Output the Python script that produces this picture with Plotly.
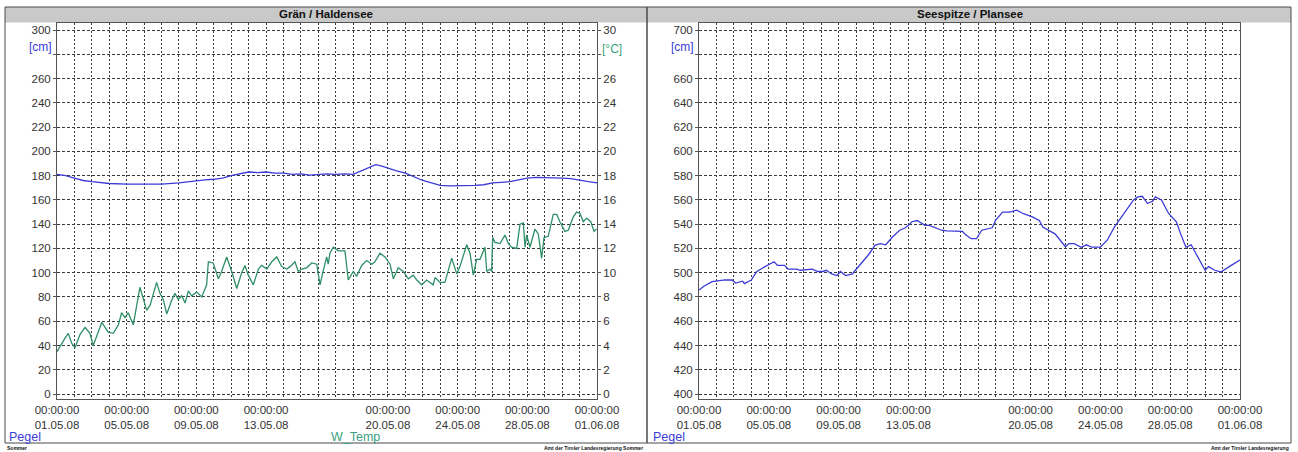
import pandas as pd
import plotly.graph_objects as go

W, H = 1298, 452
START = pd.Timestamp("2008-05-01")

# ---- Grän / Haldensee: water level [cm] (day offset from 01.05.08) ----
haldensee_pegel_days = [0, 0.5, 1, 1.5, 2, 2.5, 3, 4, 5, 6, 7, 7.5, 8, 8.5, 9, 9.5, 10,
                        10.5, 11, 11.5, 12, 12.5, 13, 13.5, 14, 14.5, 15, 15.5, 16,
                        16.5, 17, 17.5, 18, 18.3, 18.6, 19, 19.5, 20, 20.5, 21, 21.5,
                        22, 22.5, 23, 23.5, 24, 24.5, 25, 25.5, 26, 26.5, 27, 27.5,
                        28, 28.5, 29, 29.5, 30, 30.5, 31]
haldensee_pegel_cm = [181, 180, 178, 176, 175, 174, 173.5, 173, 173, 173, 174, 175, 176,
                      176.5, 177, 178, 180, 181.5, 183, 182.5, 183, 182, 182, 181, 181.5,
                      180.5, 181, 181.5, 181, 181.5, 181, 184, 187.5, 189, 188, 186, 184,
                      182, 179, 176, 174, 172, 171.5, 171.5, 171.5, 172, 172.5, 174,
                      174.5, 175, 176.5, 178, 178.5, 178.5, 178, 178, 177.5, 176, 175, 174]

# ---- Grän / Haldensee: water temperature [°C] ----
haldensee_temp_days = [0, 0.15, 0.46, 0.65, 0.84, 1.03, 1.32, 1.61, 1.89, 2.08, 2.37, 2.57,
                       2.94, 3.23, 3.52, 3.71, 3.90, 4.09, 4.38, 4.58, 4.76, 5.15, 5.34,
                       5.72, 5.91, 6.10, 6.30, 6.58, 6.77, 6.96, 7.16, 7.35, 7.54, 7.73,
                       8.02, 8.31, 8.59, 8.69, 8.97, 9.26, 9.45, 9.74, 10.03, 10.32, 10.60,
                       10.79, 10.98, 11.27, 11.56, 11.75, 12.04, 12.33, 12.61, 12.90, 13.19,
                       13.38, 13.66, 13.85, 14.05, 14.33, 14.62, 14.91, 15.10, 15.29, 15.48,
                       15.57, 15.67, 15.86, 16.15, 16.53, 16.72, 17.01, 17.20, 17.49, 17.78,
                       18.07, 18.25, 18.54, 18.83, 19.12, 19.31, 19.59, 19.88, 20.17, 20.45,
                       20.65, 20.94, 21.22, 21.60, 21.70, 21.99, 22.27, 22.66, 22.95, 23.13,
                       23.52, 23.71, 23.90, 24.09, 24.28, 24.57, 24.67, 24.86, 24.95, 25.01,
                       25.14, 25.43, 25.72, 25.91, 26.10, 26.39, 26.58, 26.77, 26.87, 26.96,
                       27.15, 27.44, 27.63, 27.82, 27.96, 28.20, 28.49, 28.69, 28.87, 29.16,
                       29.35, 29.64, 29.83, 30.02, 30.21, 30.41, 30.64, 30.83, 30.98]
haldensee_temp_c = [3.5, 3.9, 4.6, 5.0, 4.2, 3.8, 4.9, 5.5, 5.0, 4.0, 5.1, 5.9,
                    5.1, 5.0, 5.7, 6.7, 6.3, 6.7, 5.7, 7.2, 8.8, 6.9, 7.3,
                    9.2, 8.3, 7.8, 6.6, 7.7, 8.3, 7.8, 8.1, 7.5, 8.5, 8.1,
                    8.4, 8.0, 9.0, 10.9, 10.8, 9.5, 10.1, 11.3, 10.1, 8.7, 10.0,
                    10.6, 9.8, 9.0, 10.3, 10.6, 10.3, 10.9, 11.3, 10.5, 10.3,
                    10.5, 10.9, 10.1, 10.3, 10.4, 10.8, 10.7, 9.0, 10.2, 11.3,
                    10.7, 11.6, 12.1, 11.8, 11.8, 9.4, 10.1, 9.7, 10.6, 11.0,
                    10.7, 10.9, 11.6, 11.3, 10.7, 9.5, 10.4, 10.1, 9.5, 9.8,
                    9.4, 9.0, 9.4, 9.0, 9.6, 9.2, 9.2, 11.2, 9.9, 10.5,
                    12.3, 11.6, 9.8, 11.1, 11.1, 12.1, 10.1, 10.3, 10.1, 12.9,
                    12.5, 12.4, 13.1, 12.4, 12.1, 12.0, 14.0, 14.1, 12.1, 13.1,
                    12.1, 13.6, 13.2, 11.2, 12.9, 13.0, 14.8, 14.8, 14.2, 13.4,
                    13.5, 14.6, 15.0, 14.9, 14.2, 14.5, 14.2, 13.4, 13.6]

# ---- Seespitze / Plansee: water level [cm] ----
plansee_pegel_days = [0, 0.3, 0.75, 1.5, 1.9, 2.1, 2.5, 2.6, 3.0, 3.3, 3.6, 4.0, 4.3, 4.5,
                      4.9, 5.1, 5.6, 5.8, 6.5, 6.8, 7.1, 7.3, 7.6, 7.9, 8.1, 8.4, 8.8, 8.9,
                      9.3, 9.7, 10.1, 10.4, 10.7, 11.1, 11.5, 11.8, 12.0, 12.2, 12.5, 12.7,
                      12.95, 13.2, 13.6, 13.9, 14.2, 14.9, 15.1, 15.3, 15.6, 15.9, 16.2,
                      16.8, 17.0, 17.4, 17.8, 18.2, 18.6, 19.1, 19.5, 19.7, 20.0, 20.4,
                      21.0, 21.2, 21.5, 21.9, 22.2, 22.5, 23.0, 23.4, 23.8, 24.2, 24.6,
                      24.9, 25.15, 25.4, 25.7, 26.0, 26.15, 26.5, 26.9, 27.35, 27.6, 27.9,
                      28.2, 28.6, 29.0, 29.2, 29.55, 29.9, 30.2, 30.5, 31.0]
plansee_pegel_cm = [485.7, 489, 492.6, 494, 494, 491.5, 493, 491, 494, 500.8, 503.5, 506.3,
                    509, 506, 506, 503, 503, 502, 503, 501, 501, 502, 499, 497.6, 501,
                    497.6, 499, 501, 508, 514.6, 522.8, 524, 523, 529.6, 535, 536.8, 539,
                    542, 543, 541, 539, 539, 537, 535, 534.5, 534.5, 534, 531, 528, 528,
                    535, 537, 543.4, 550, 550, 551.5, 548.6, 546, 543, 537.6, 535, 532,
                    521.4, 524, 524, 521, 523, 521, 521, 527, 537.6, 546, 554.4,
                    560, 562.5, 563, 557, 559, 562.5, 560, 549, 542, 532, 521,
                    523, 512, 502, 505, 502, 500.6, 503, 506, 510.5]

# ---- axis labelling ----
tick_dates = ["2008-05-01", "2008-05-05", "2008-05-09", "2008-05-13",
              "2008-05-20", "2008-05-24", "2008-05-28", "2008-06-01"]
tick_text = ["00:00:00<br>01.05.08", "00:00:00<br>05.05.08", "00:00:00<br>09.05.08",
             "00:00:00<br>13.05.08", "00:00:00<br>20.05.08", "00:00:00<br>24.05.08",
             "00:00:00<br>28.05.08", "00:00:00<br>01.06.08"]
cm_ticks_left = [0, 20, 40, 60, 80, 100, 120, 140, 160, 180, 200, 220, 240, 260, 280, 300]
cm_text_left = ["0", "20", "40", "60", "80", "100", "120", "140", "160", "180", "200",
                "220", "240", "260", "", "300"]
temp_ticks = [0, 2, 4, 6, 8, 10, 12, 14, 16, 18, 20, 22, 24, 26, 28, 30]
temp_text = ["0", "2", "4", "6", "8", "10", "12", "14", "16", "18", "20", "22", "24",
             "26", "", "30"]
cm_ticks_right = [400, 420, 440, 460, 480, 500, 520, 540, 560, 580, 600, 620, 640, 660,
                  680, 700]
cm_text_right = ["400", "420", "440", "460", "480", "500", "520", "540", "560", "580",
                 "600", "620", "640", "660", "", "700"]

BLUE = "#3b3bd6"
GREEN = "#2f8f68"
GRID = "#3a3a3a"
FONT = "Liberation Sans, Arial, sans-serif"


def to_time(days):
    return START + pd.to_timedelta(days, unit="D")


def px(x):
    return x / W


def py(y):
    return 1 - y / H


fig = go.Figure()
fig.add_trace(go.Scatter(x=to_time(haldensee_pegel_days), y=haldensee_pegel_cm,
                         mode="lines", line=dict(color=BLUE, width=1.3),
                         xaxis="x", yaxis="y", name="Pegel"))
fig.add_trace(go.Scatter(x=to_time(haldensee_temp_days), y=haldensee_temp_c,
                         mode="lines", line=dict(color=GREEN, width=1.3),
                         xaxis="x", yaxis="y2", name="W_Temp"))
fig.add_trace(go.Scatter(x=to_time(plansee_pegel_days), y=plansee_pegel_cm,
                         mode="lines", line=dict(color=BLUE, width=1.3),
                         xaxis="x2", yaxis="y3", name="Pegel"))

y_dom = [py(399), py(23)]
tickfont = dict(family=FONT, size=11.5, color="#333333")

xcommon = dict(type="date", range=["2008-05-01", "2008-06-01"],
               tickvals=tick_dates, ticktext=tick_text, tickangle=0,
               showgrid=True, gridcolor=GRID, griddash="2px,2px", gridwidth=1,
               minor=dict(dtick=86400000, tick0="2008-05-01", showgrid=True,
                          gridcolor=GRID, griddash="2px,2px", gridwidth=1),
               showline=True, mirror=True, linecolor="#555555", linewidth=1,
               ticks="", tickfont=tickfont, zeroline=False, fixedrange=True,
               automargin=False)
ycommon = dict(showgrid=True, gridcolor=GRID, griddash="3px,2px", gridwidth=1,
               showline=True, linecolor="#555555", linewidth=1,
               ticks="outside", ticklen=3, tickcolor="#555555",
               tickfont=tickfont, zeroline=False, fixedrange=True, domain=y_dom,
               automargin=False)

fig.update_layout(
    width=W, height=H, margin=dict(l=0, r=0, t=0, b=0, pad=0, autoexpand=False),
    paper_bgcolor="white", plot_bgcolor="white", showlegend=False,
    font=dict(family=FONT, color="#333333"),
    xaxis=dict(xcommon, domain=[px(57), px(597)], anchor="y"),
    xaxis2=dict(xcommon, domain=[px(699), px(1240)], anchor="y3"),
    yaxis=dict(ycommon, range=[-4.1, 305.8], tickvals=cm_ticks_left,
               ticktext=cm_text_left, anchor="x", mirror=False),
    yaxis2=dict(ycommon, range=[-0.41, 30.58], tickvals=temp_ticks, ticktext=temp_text,
                overlaying="y", side="right", anchor="x", showgrid=False),
    yaxis3=dict(ycommon, range=[395.9, 705.8], tickvals=cm_ticks_right,
                ticktext=cm_text_right, anchor="x2", mirror=True),
)

# panel frames and grey title bars
shapes = []
for x0, x1 in [(5, 647), (647, 1291)]:
    shapes.append(dict(type="rect", xref="paper", yref="paper",
                       x0=px(x0), x1=px(x1), y0=py(22.5), y1=py(7),
                       fillcolor="#c9c9c9", line=dict(width=0), layer="below"))
    shapes.append(dict(type="rect", xref="paper", yref="paper",
                       x0=px(x0), x1=px(x1), y0=py(443), y1=py(7),
                       fillcolor="rgba(0,0,0,0)", line=dict(color="#4a4a4a", width=1)))
fig.update_layout(shapes=shapes)

ann = []


def label(x, y, text, xanchor="left", size=12, color="#333333", bold=False):
    ann.append(dict(xref="paper", yref="paper", x=px(x), y=py(y), text=text,
                    showarrow=False, xanchor=xanchor, yanchor="middle",
                    font=dict(family=FONT, size=size, color=color,
                              weight="bold" if bold else "normal")))


label(326, 14.5, "Grän / Haldensee", "center", 11.5, "#111111", True)
label(970, 14.5, "Seespitze / Plansee", "center", 11.5, "#111111", True)
label(54, 47, "[cm]", "right", 12, BLUE)
label(600, 49, "[°C]", "left", 12, "#3a9f80")
label(696, 47, "[cm]", "right", 12, BLUE)
label(7, 437, "Pegel", "left", 12.5, BLUE)
label(651, 437, "Pegel", "left", 12.5, BLUE)
label(329, 437, "W_Temp", "left", 12.5, "#3a9f80")
label(5, 447.5, "Sommer", "left", 5, "#111111", True)
label(593, 447.5, "Amt der Tiroler Landesregierung Sommer", "center", 5, "#111111", True)
label(1291, 447.5, "Amt der Tiroler Landesregierung", "right", 5, "#111111", True)
fig.update_layout(annotations=ann)

fig.write_html("out.html")
